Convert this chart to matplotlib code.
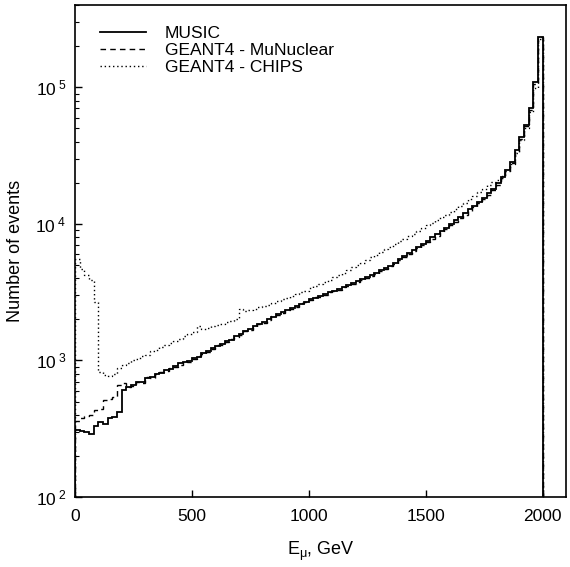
import numpy as np
import matplotlib
matplotlib.use("Agg")
import matplotlib.pyplot as plt
from matplotlib.ticker import FixedLocator, FuncFormatter, LogLocator, NullFormatter

plt.rcParams['font.family'] = ['Liberation Sans', 'DejaVu Sans']
plt.rcParams['mathtext.fontset'] = 'custom'
plt.rcParams['mathtext.rm'] = 'Liberation Sans'
plt.rcParams['mathtext.it'] = 'Liberation Sans:italic'

# 100 bins of 20 GeV, 0 - 2000 GeV
bin_edges = np.arange(0, 2001, 20)

music = [310, 305, 300, 290, 330, 355, 340, 380, 385, 420,
         610, 640, 660, 690, 700, 740, 760, 800, 810, 850,
         870, 910, 950, 975, 990, 1040, 1060, 1130, 1170, 1230,
         1280, 1320, 1380, 1420, 1500, 1560, 1640, 1700, 1780, 1840,
         1900, 2000, 2080, 2180, 2260, 2330, 2420, 2520, 2600, 2700,
         2800, 2880, 2960, 3050, 3150, 3250, 3350, 3450, 3560, 3680,
         3800, 3920, 4050, 4200, 4380, 4560, 4750, 4950, 5200, 5500,
         5850, 6150, 6450, 6800, 7150, 7550, 7950, 8400, 8900, 9400,
         10000, 10600, 11300, 12000, 12800, 13600, 14500, 15500, 16700, 18000,
         19800, 22000, 25000, 28500, 35000, 43000, 53000, 71000, 110000, 235000]

munuclear = [360, 380, 390, 400, 430, 440, 510, 520, 540, 660,
             680, 640, 650, 700, 680, 760, 740, 790, 820, 840,
             880, 900, 930, 990, 980, 1030, 1080, 1110, 1160, 1210,
             1290, 1300, 1370, 1440, 1480, 1540, 1650, 1680, 1760, 1850,
             1880, 1980, 2100, 2150, 2240, 2350, 2400, 2480, 2620, 2680,
             2780, 2900, 2930, 3020, 3160, 3220, 3300, 3460, 3520, 3650,
             3760, 3900, 4000, 4150, 4300, 4500, 4650, 4900, 5100, 5400,
             5700, 6000, 6350, 6650, 7000, 7400, 7800, 8200, 8700, 9200,
             9800, 10400, 11000, 11700, 12500, 13300, 14200, 15200, 16300, 17600,
             19300, 21500, 24200, 27800, 34000, 42000, 52000, 68000, 105000, 232000]

chips = [5500, 4700, 4200, 3900, 2700, 820, 780, 770, 790, 880,
         930, 960, 1000, 1030, 1080, 1100, 1170, 1190, 1250, 1300,
         1340, 1390, 1440, 1500, 1560, 1620, 1780, 1700, 1740, 1780,
         1820, 1860, 1900, 1960, 2000, 2380, 2300, 2340, 2400, 2450,
         2500, 2560, 2640, 2720, 2800, 2880, 2950, 3050, 3150, 3250,
         3380, 3480, 3600, 3750, 3900, 4050, 4250, 4400, 4600, 4800,
         5000, 5200, 5450, 5700, 5950, 6200, 6500, 6800, 7100, 7450,
         7800, 8150, 8500, 8900, 9300, 9750, 10200, 10700, 11200, 11700,
         12300, 12900, 13600, 14300, 15100, 16000, 17000, 18000, 19200, 20200,
         21000, 22500, 24500, 27500, 33000, 41000, 50000, 66000, 99000, 225000]

labels = ['MUSIC', 'GEANT4 - MuNuclear', 'GEANT4 - CHIPS']

fig = plt.figure(figsize=(5.70, 5.67), dpi=100)
ax = fig.add_axes([0.1316, 0.1235, 0.8614, 0.8675])

ax.stairs(music, bin_edges, baseline=1, color='black', lw=1.3, ls='-', label=labels[0])
ax.stairs(munuclear, bin_edges, baseline=1, color='black', lw=1.0, ls=(0, (4, 3)), label=labels[1])
ax.stairs(chips, bin_edges, baseline=1, color='black', lw=1.0, ls=(0, (1, 2)), label=labels[2])

ax.set_yscale('log')
ax.set_xlim(0, 2100)
ax.set_ylim(100, 4e5)

ax.xaxis.set_major_locator(FixedLocator([0, 500, 1000, 1500, 2000]))
ax.yaxis.set_major_locator(LogLocator(base=10))
ax.yaxis.set_minor_locator(LogLocator(base=10, subs=np.arange(2, 10)))
ax.yaxis.set_minor_formatter(NullFormatter())
ax.yaxis.set_major_formatter(FuncFormatter(lambda v, p: r'$\mathregular{10^{\ %d}}$' % round(np.log10(v))))

ax.tick_params(which='both', direction='in', top=False, right=False, labelsize=12.5)
ax.tick_params(which='major', length=5, width=1)
ax.tick_params(which='minor', length=3, width=0.8)
ax.tick_params(axis='x', pad=9)
ax.tick_params(axis='y', pad=6)
for s in ax.spines.values():
    s.set_linewidth(1.2)

ax.set_xlabel(r'E$_{\mathregular{μ}}$, GeV', fontsize=13, labelpad=11)
ax.set_ylabel('Number of events', fontsize=13, labelpad=8)

leg = ax.legend(loc='upper left', frameon=False, fontsize=12.5, handlelength=2.6,
                handletextpad=1.1, labelspacing=0.1, bbox_to_anchor=(0.02, 0.99))

fig.savefig('out.png', dpi=100)
